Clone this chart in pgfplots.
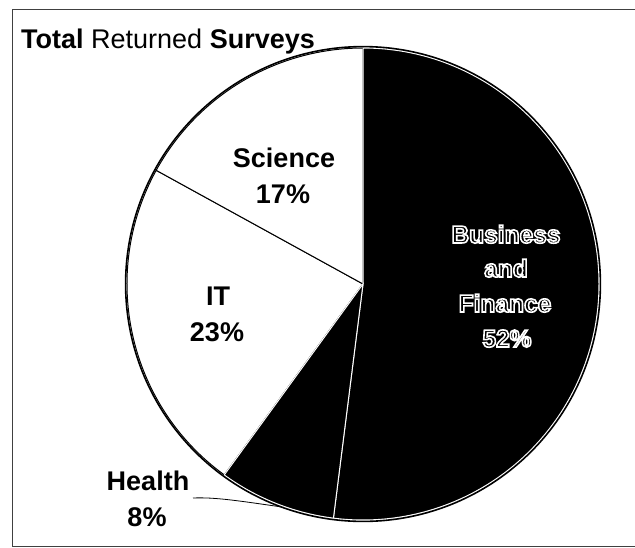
\documentclass[border=0pt]{standalone}
\usepackage{pgfplots}
\pgfplotsset{compat=1.18}
\usepackage{pgfplotstable}
\usepackage{fontspec}
\setmainfont{Liberation Sans}

\pgfplotstableread{
label value
Business 52
Health 8
IT 23
Science 17
}\piedata

\tikzset{lab/.style={font=\bfseries\fontsize{27}{27}\selectfont, inner sep=0pt},
         blab/.style={font=\bfseries\fontsize{24.5}{24.5}\selectfont, inner sep=0pt}}
\newcommand\outl[1]{\special{pdf:code 2 Tr 1 1 1 RG 1.6 w}#1\special{pdf:code 0 Tr}}

\begin{document}
\begin{tikzpicture}
\pgfmathsetmacro\aA{90}
\pgfplotstablegetelem{0}{value}\of\piedata
\pgfmathsetmacro\aB{\aA-3.6*\pgfplotsretval}
\pgfplotstablegetelem{1}{value}\of\piedata
\pgfmathsetmacro\aC{\aB-3.6*\pgfplotsretval}
\pgfplotstablegetelem{2}{value}\of\piedata
\pgfmathsetmacro\aD{\aC-3.6*\pgfplotsretval}
\pgfplotstablegetelem{3}{value}\of\piedata
\pgfmathsetmacro\aE{\aD-3.6*\pgfplotsretval}
\begin{axis}[
  scale only axis, width=635pt, height=547pt,
  xmin=0, xmax=635, ymin=0, ymax=547, y dir=reverse,
  enlargelimits=false, hide axis, clip=false
]
\coordinate (BL) at (axis cs:0,547);
\coordinate (TR) at (axis cs:635,0);
% frame
\draw[black!75, line width=1pt] (axis cs:635,9) -- (axis cs:12,9) -- (axis cs:12,546) -- (axis cs:635,546);
% white slices
\filldraw[fill=white, draw=black, line width=1pt] (axis cs:363,284) -- ++(\aC:236pt) arc[start angle=\aC, end angle=\aD, radius=236pt] -- cycle;
\filldraw[fill=white, draw=black, line width=1pt] (axis cs:363,284) -- ++(\aD:236pt) arc[start angle=\aD, end angle=\aE, radius=236pt] -- cycle;
% black slices
\filldraw[fill=black, draw=white, line width=1pt] (axis cs:363,284) -- ++(\aA:236pt) arc[start angle=\aA, end angle=\aB, radius=236pt] -- cycle;
\filldraw[fill=black, draw=white, line width=1pt] (axis cs:363,284) -- ++(\aB:236pt) arc[start angle=\aB, end angle=\aC, radius=236pt] -- cycle;
% outline
\draw[black, line width=1.6pt] (axis cs:363,284) circle[radius=237.4pt];
% title
\node[anchor=base west, inner sep=0pt, font=\fontsize{27}{27}\selectfont] at (axis cs:21,48) {\textbf{Total} Returned \textbf{Surveys}};
% labels
\node[lab, anchor=base] at (axis cs:284,167) {Science};
\node[lab, anchor=base] at (axis cs:283,203) {17\%};
\node[lab, anchor=base] at (axis cs:218,305) {IT};
\node[lab, anchor=base] at (axis cs:217,341) {23\%};
\node[lab, anchor=base] at (axis cs:148,490) {Health};
\node[lab, anchor=base] at (axis cs:147,526) {8\%};
\draw[black, line width=0.8pt] (axis cs:193,498) .. controls (axis cs:215,497) and (axis cs:240,501) .. (axis cs:282,507);
\node[blab, anchor=base] at (axis cs:506,243) {\outl{Business}};
\node[blab, anchor=base] at (axis cs:506,277) {\outl{and}};
\node[blab, anchor=base] at (axis cs:505,312) {\outl{Finance}};
\node[blab, anchor=base] at (axis cs:507,347) {\outl{52\%}};
\end{axis}
\pgfresetboundingbox
\path (BL) rectangle (TR);
\end{tikzpicture}
\end{document}
